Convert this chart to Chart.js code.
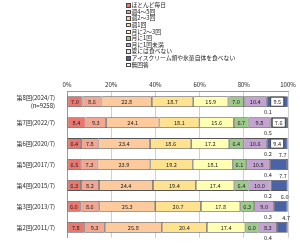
<!DOCTYPE html>
<html>
<head>
<meta charset="utf-8">
<script src="https://cdn.jsdelivr.net/npm/chart.js@4/dist/chart.umd.min.js"></script>
<style>
  body { margin: 0; background: #fff; }
  #wrap { position: relative; width: 300px; height: 249px; }
  #legend { position: absolute; left: 126px; top: 2px; font: 5.8px "Noto Sans CJK JP"; color: #222; }
  #legend div { white-space: nowrap; height: 6.65px; line-height: 6.65px; }
  #legend span { display: inline-block; box-sizing: border-box; width: 4.5px; height: 4.5px; border: 0.6px solid #444; margin-right: 1px; vertical-align: -0.5px; }
</style>
</head>
<body>
<div id="wrap">
  <canvas id="iceChart" width="300" height="249"></canvas>
  <div id="legend"></div>
</div>
<script>
// survey rounds, newest first
const rounds = [
    ['第8回(2024/7)', '(n=9258)'],
    '第7回(2022/7)',
    '第6回(2020/7)',
    '第5回(2017/7)',
    '第4回(2015/7)',
    '第3回(2013/7)',
    '第2回(2011/7)'
];

const categories = ['ほとんど毎日', '週4～5回', '週2～3回', '週1回', '月に2～3回', '月に1回',
    '月に1回未満', '夏には食べない', 'アイスクリーム類や氷菓自体を食べない', '無回答'];

const colors = ['#e8776f', '#f2a793', '#fcca9c', '#fee28f', '#ffffb4', '#9dca8a',
    '#c3a3cf', '#e6e6ee', '#4a62a6', '#ffffff'];

// values (%) per category, one entry per round
const everyDay   = [7.0, 8.4, 6.4, 6.5, 6.3, 6.0, 7.8];
const week4to5   = [8.6, 9.3, 7.8, 7.3, 8.2, 8.6, 9.3];
const week2to3   = [22.8, 24.1, 23.4, 23.9, 24.4, 25.3, 25.8];
const weekOnce   = [18.7, 18.1, 18.6, 19.2, 19.4, 20.7, 20.4];
const month2to3  = [15.9, 15.6, 17.2, 18.1, 17.4, 17.8, 17.4];
const monthOnce  = [7.0, 6.7, 6.4, 6.1, 6.4, 6.3, 6.0];
const lessMonth  = [10.4, 9.8, 10.6, 10.8, 10.0, 9.0, 8.3];
const notSummer  = [null, null, null, null, null, null, null];
const noIce      = [9.5, 7.6, 9.4, 7.7, 7.7, 6.0, 4.7];
const noAnswer   = [0.1, 0.5, 0.2, 0.4, 0.2, 0.3, 0.4];

const xTicks = ['0%', '20%', '40%', '60%', '80%', '100%'];

const series = [everyDay, week4to5, week2to3, weekOnce, month2to3, monthOnce, lessMonth, notSummer, noIce, noAnswer];

// html legend
const legendEl = document.getElementById('legend');
categories.forEach((c, i) => {
    legendEl.innerHTML += '<div><span style="background:' + colors[i] + '"></span>' + c + '</div>';
});

const labelFont = '5.6px "Noto Sans CJK JP"';

const valueLabels = {
    id: 'valueLabels',
    afterDatasetsDraw(chart) {
        const c = chart.ctx;
        c.save();
        c.font = labelFont;
        c.fillStyle = '#222';
        c.textBaseline = 'middle';
        c.textAlign = 'center';
        chart.data.datasets.forEach((ds, di) => {
            chart.getDatasetMeta(di).data.forEach((bar, ri) => {
                const v = ds.data[ri];
                if (v == null) return;
                const txt = v.toFixed(1);
                const left = bar.base, right = bar.x;
                const cx = (left + right) / 2;
                const top = bar.y - bar.height / 2, bottom = bar.y + bar.height / 2;
                if (di === 9) {
                    c.fillText(txt, 268, bottom + 5);
                } else if (di === 8) {
                    if (ri < 3) {
                        c.fillStyle = '#fff';
                        c.fillRect(cx - 6.5, bar.y - 4.5, 13, 9);
                        c.strokeStyle = '#333';
                        c.lineWidth = 0.8;
                        c.strokeRect(cx - 6.5, bar.y - 4.5, 13, 9);
                        c.fillStyle = '#222';
                        c.fillText(txt, cx, bar.y + 0.5);
                    } else {
                        c.fillText(txt, cx + 4, top - 4);
                    }
                } else {
                    c.fillText(txt, cx, bar.y + 0.5);
                }
            });
        });
        c.restore();
    }
};

const ctx = document.getElementById('iceChart').getContext('2d');
const iceChart = new Chart(ctx, {
    type: 'bar',
    data: {
        labels: rounds,
        datasets: series.map((d, i) => ({
            label: categories[i],
            data: d,
            backgroundColor: colors[i],
            borderColor: '#555',
            borderWidth: 0.8,
            borderSkipped: false,
            barPercentage: 0.52,
            categoryPercentage: 1
        }))
    },
    options: {
        indexAxis: 'y',
        responsive: false,
        animation: false,
        layout: { padding: { top: 78, right: 12, bottom: 5, left: 0 } },
        plugins: {
            legend: { display: false },
            tooltip: { enabled: false }
        },
        scales: {
            x: {
                position: 'top',
                stacked: true,
                min: 0,
                max: 100,
                ticks: {
                    stepSize: 20,
                    padding: 3,
                    color: '#222',
                    font: { size: 6, family: 'Noto Sans CJK JP' },
                    callback: (v, i) => xTicks[i]
                },
                grid: { color: '#c4c4c4', lineWidth: 0.8, drawTicks: false },
                border: { color: '#999' }
            },
            y: {
                stacked: true,
                afterFit: s => { s.width = 67; },
                ticks: {
                    padding: 4,
                    color: '#222',
                    font: { size: 6, family: 'Noto Sans CJK JP' }
                },
                grid: { display: false },
                border: { color: '#999' }
            }
        }
    },
    plugins: [valueLabels]
});
</script>
</body>
</html>
